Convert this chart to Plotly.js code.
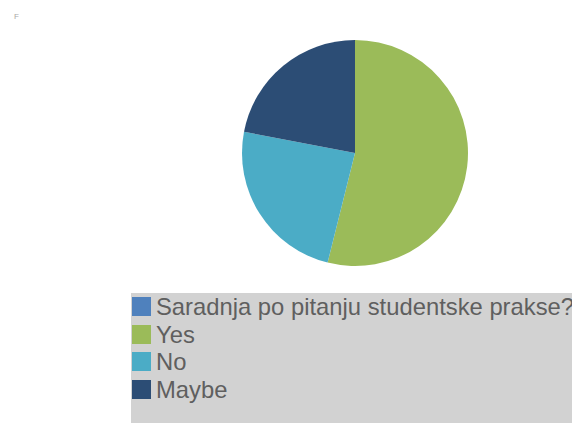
<!DOCTYPE html>
<html><head><meta charset="utf-8">
<script src="https://cdn.plot.ly/plotly-3.0.1.min.js"></script>
<style>html,body{margin:0;padding:0;background:#fff;overflow:hidden}#c{width:572px;height:423px}</style>
</head><body><div id="c"></div>
<script>
const labels = ["Saradnja po pitanju studentske prakse?", "Yes", "No", "Maybe"];
const values = [0, 53.9, 24.1, 22];
const colors = ["#4f81bd", "#9bbb59", "#4bacc6", "#2c4d75"];
const W = 572, H = 423;
const px = x => x / W, py = y => 1 - y / H;
const swatchTop = [297, 325, 352, 380];
const shapes = [{type:"rect", xref:"paper", yref:"paper", x0:px(131), x1:px(573), y0:py(293), y1:py(424),
  fillcolor:"#d2d2d2", line:{width:0}, layer:"below"}];
const annotations = [{xref:"paper", yref:"paper", x:px(12), y:py(16), xanchor:"left", yanchor:"middle",
  text:"F", showarrow:false, font:{family:"Liberation Sans", size:8, color:"#a8a8a8"}}];
labels.forEach((t,i) => {
  shapes.push({type:"rect", xref:"paper", yref:"paper", x0:px(132), x1:px(151),
    y0:py(swatchTop[i]), y1:py(swatchTop[i]+19), fillcolor:colors[i], line:{width:0}});
  annotations.push({xref:"paper", yref:"paper", x:px(155), y:py(swatchTop[i]+9.5), xanchor:"left", yanchor:"middle",
    text:t, showarrow:false, align:"left", borderpad:0, font:{family:"Liberation Sans", size:23.8, color:"#5f5f5f"}});
});
Plotly.newPlot("c", [{
  type:"pie", labels, values, sort:false, direction:"clockwise", rotation:0,
  marker:{colors, line:{width:0}}, textinfo:"none", hoverinfo:"label+percent",
  domain:{x:[px(242),px(468)], y:[py(266),py(40)]}, automargin:false
}], {
  width:W, height:H, margin:{l:0,r:0,t:0,b:0}, showlegend:false,
  paper_bgcolor:"#fff", shapes, annotations
}, {displayModeBar:false, staticPlot:true});
</script></body></html>
